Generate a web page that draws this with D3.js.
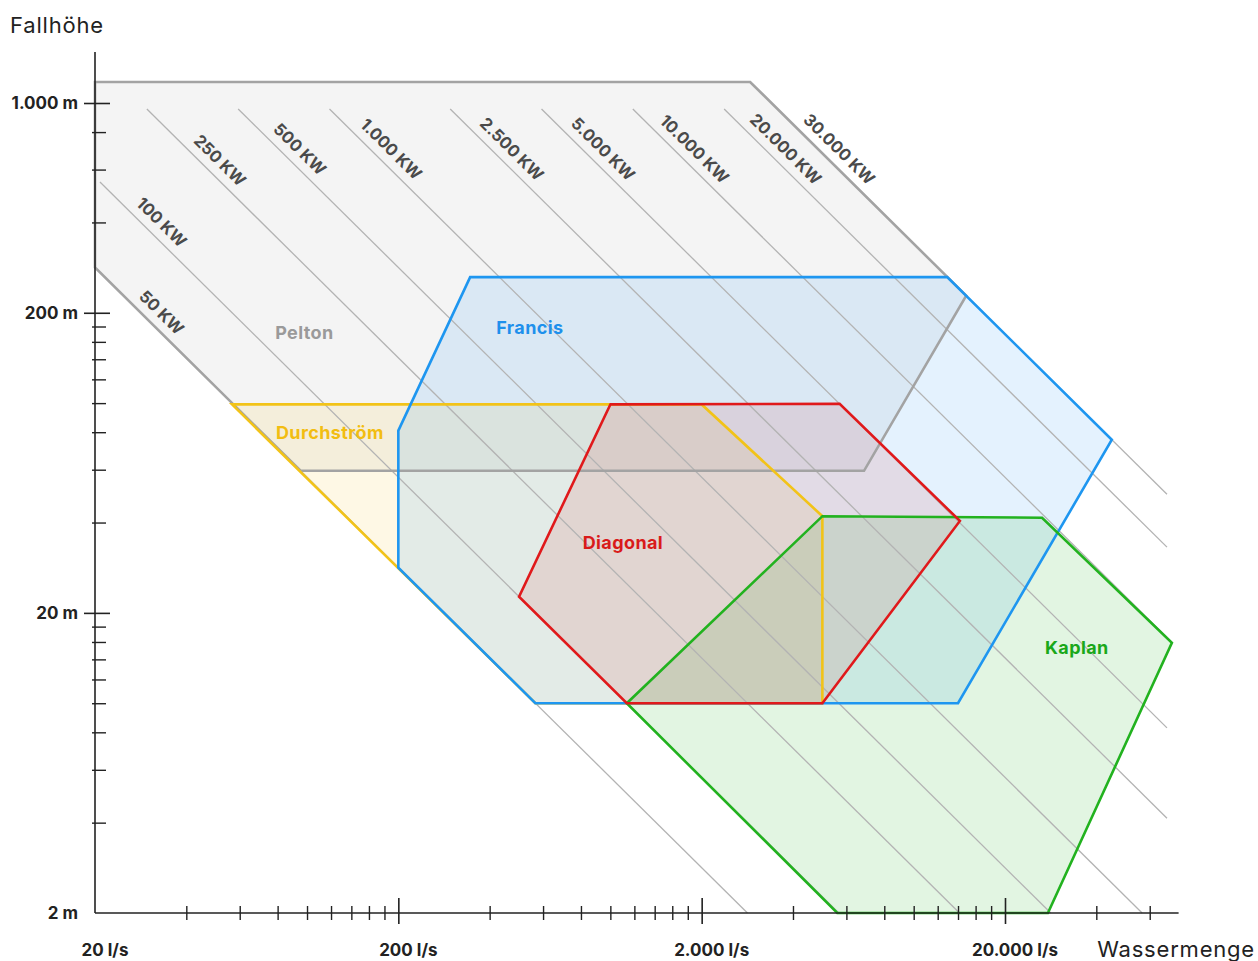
<!DOCTYPE html>
<html>
<head>
<meta charset="utf-8">
<script src="https://cdn.jsdelivr.net/npm/d3@7"></script>
<style>
  body { margin: 0; background: #fff; }
  svg { display: block; }
  text { font-family: Inter, "Noto Sans", sans-serif; }
</style>
</head>
<body>
<svg width="1258" height="961"></svg>
<script>
// Achsen: Wassermenge in l/s, Fallhöhe in m (beide logarithmisch)
var flowTicks = [20, 200, 2000, 20000];
var flowLabels = ["20 l/s", "200 l/s", "2.000 l/s", "20.000 l/s"];
var flowMinor = [40, 60, 80, 100, 120, 140, 160, 180,
                 400, 600, 800, 1000, 1200, 1400, 1600, 1800,
                 4000, 6000, 8000, 10000, 12000, 14000, 16000, 18000,
                 40000, 60000];
var headTicks = [1000, 200, 20, 2];
var headLabels = ["1.000 m", "200 m", "20 m", "2 m"];
var headMinor = [800, 600, 400,
                 180, 160, 140, 120, 100, 80, 60, 40,
                 18, 16, 14, 12, 10, 8, 6, 4];

// Leistungslinien (kW)
var powerKW = [50, 100, 250, 500, 1000, 2500, 5000, 10000, 20000, 30000];
var powerLabels = ["50 KW", "100 KW", "250 KW", "500 KW", "1.000 KW", "2.500 KW",
                   "5.000 KW", "10.000 KW", "20.000 KW", "30.000 KW"];

// Einsatzbereiche der Turbinen, Punkte als [l/s, m]
var turbineNames = ["Pelton", "Durchström", "Francis", "Kaplan", "Diagonal"];
var pelton = [[20, 1175], [2890, 1175], [14900, 228], [6860, 59.5], [95.2, 59.5], [20, 283]];
var durchstroem = [[56.6, 99], [2000, 99], [5000, 42], [5000, 10], [566, 10]];
var francis = [[345, 263], [12900, 263], [45000, 75.5], [14000, 10], [566, 10], [200, 28.3], [200, 81]];
var kaplan = [[1133, 10], [5000, 42], [26500, 41.5], [71000, 15.9], [27700, 2], [5600, 2]];
var diagonal = [[1000, 99], [5700, 99.5], [14200, 40.5], [5000, 10], [1133, 10], [500, 22.65]];
var turbineLabelAt = [[98, 171], [119, 79.7], [543, 178], [34500, 15.3], [1100, 34.2]];

var svg = d3.select("svg");
var ink = "#222";

var x = d3.scaleLog().domain([20, 20000]).range([95, 1005]);
var y = d3.scaleLog().domain([2, 1000]).range([913, 103]);
var flowEnd = 74700, headTop = 1480;

// Stil je Turbine
var styles = [
    { stroke: "#a3a3a3", fill: "#f4f4f4", op: 1, text: "#9a9a9a" },
    { stroke: "#f2c318", fill: "rgb(245,185,0)", op: 0.1, text: "#f2bd12" },
    { stroke: "#1e96f0", fill: "#2196f3", op: 0.12, text: "#1e90ec" },
    { stroke: "#22b21f", fill: "#22b422", op: 0.13, text: "#1aa81a" },
    { stroke: "#e0191b", fill: "rgb(220,20,20)", op: 0.1, text: "#d91a1a" }
];
var polys = [pelton, durchstroem, francis, kaplan, diagonal];
var line = d3.line().x(d => x(d[0])).y(d => y(d[1])).curve(d3.curveLinearClosed);

// Flächen
svg.append("g").selectAll("path").data(polys).enter().append("path")
    .attr("d", line)
    .attr("fill", (d, i) => styles[i].fill)
    .attr("fill-opacity", (d, i) => styles[i].op)
    .attr("stroke", "none");

// Leistungslinien: P = 9.81 * 0.9 * Q * H
var k = 9.81 * 0.9;
var qMin = 20.77, qMax = 68400, hMax = 955, hMin = 2;
var pl = powerKW.map(function(p, i) {
    var c = p / k * 1000;
    var q1 = Math.max(qMin, c / hMax), q2 = Math.min(qMax, c / hMin);
    return { label: powerLabels[i], a: [q1, c / q1], b: [q2, c / q2] };
});
var pg = svg.append("g");
pg.selectAll("line").data(pl).enter().append("line")
    .attr("x1", d => x(d.a[0])).attr("y1", d => y(d.a[1]))
    .attr("x2", d => x(d.b[0])).attr("y2", d => y(d.b[1]))
    .attr("stroke", "#b3b3b3").attr("stroke-width", 1.3);

// Umrisse
svg.append("g").selectAll("path").data(polys).enter().append("path")
    .attr("d", line)
    .attr("fill", "none")
    .attr("stroke", (d, i) => styles[i].stroke)
    .attr("stroke-width", 2.6)
    .attr("stroke-linejoin", "miter");

// Beschriftung Leistungslinien
pg.selectAll("text").data(pl).enter().append("text")
    .attr("transform", function(d) {
        var x1 = x(d.a[0]), y1 = y(d.a[1]), x2 = x(d.b[0]), y2 = y(d.b[1]);
        var len = Math.hypot(x2 - x1, y2 - y1);
        var ux = (x2 - x1) / len, uy = (y2 - y1) / len;
        var ang = Math.atan2(uy, ux) * 180 / Math.PI;
        var along = d.label == "250 KW" ? 88 : 72;
        return "translate(" + (x1 + ux * along) + "," + (y1 + uy * along) + ") rotate(" + ang + ")";
    })
    .attr("text-anchor", "middle")
    .attr("dy", -9)
    .attr("font-size", 16.5).attr("font-weight", 700)
    .attr("fill", "#4a4a4a")
    .text(d => d.label);

// Namen der Turbinen
svg.append("g").selectAll("text").data(turbineNames).enter().append("text")
    .attr("x", (d, i) => x(turbineLabelAt[i][0]))
    .attr("y", (d, i) => y(turbineLabelAt[i][1]))
    .attr("dy", "0.35em")
    .attr("text-anchor", "middle")
    .attr("font-size", 18).attr("font-weight", 700).attr("letter-spacing", 0.4)
    .attr("fill", (d, i) => styles[i].text)
    .text(d => d);

// Achsen
var axes = svg.append("g");
axes.append("line").attr("x1", x(20)).attr("x2", x(flowEnd))
    .attr("y1", y(2)).attr("y2", y(2)).attr("stroke", ink).attr("stroke-width", 1.6);
axes.append("line").attr("x1", x(20)).attr("x2", x(20))
    .attr("y1", y(headTop)).attr("y2", y(2)).attr("stroke", ink).attr("stroke-width", 1.6);

var gxMinor = axes.append("g").attr("transform", "translate(0," + y(2) + ")")
    .call(d3.axisBottom(x).tickValues(flowMinor).tickSize(7).tickFormat(""));
gxMinor.select(".domain").remove();
gxMinor.selectAll(".tick line").attr("y1", -7).attr("stroke", ink).attr("stroke-width", 1.4);

var gxMajor = axes.append("g").attr("transform", "translate(0," + y(2) + ")")
    .call(d3.axisBottom(x).tickValues(flowTicks.slice(1)).tickSize(11).tickFormat(""));
gxMajor.select(".domain").remove();
gxMajor.selectAll(".tick line").attr("y1", -15).attr("stroke", ink).attr("stroke-width", 1.6);

var gyMinor = axes.append("g").attr("transform", "translate(" + x(20) + ",0)")
    .call(d3.axisRight(y).tickValues(headMinor).tickSize(11).tickFormat(""));
gyMinor.select(".domain").remove();
gyMinor.selectAll(".tick line").attr("x1", -3).attr("stroke", ink).attr("stroke-width", 1.4);

var gyMajor = axes.append("g").attr("transform", "translate(" + x(20) + ",0)")
    .call(d3.axisRight(y).tickValues(headTicks.slice(0, 3)).tickSize(15).tickFormat(""));
gyMajor.select(".domain").remove();
gyMajor.selectAll(".tick line").attr("x1", -11).attr("stroke", ink).attr("stroke-width", 1.6);

axes.selectAll(".xlab").data(flowTicks).enter().append("text")
    .attr("x", d => x(d) + 10).attr("y", 956)
    .attr("text-anchor", "middle")
    .attr("font-size", 17).attr("font-weight", 700)
    .attr("fill", ink)
    .text((d, i) => flowLabels[i]);

axes.selectAll(".ylab").data(headTicks).enter().append("text")
    .attr("x", 78).attr("y", d => y(d)).attr("dy", "0.35em")
    .attr("text-anchor", "end")
    .attr("font-size", 17).attr("font-weight", 700)
    .attr("fill", ink)
    .text((d, i) => headLabels[i]);

svg.append("text").attr("x", 10).attr("y", 33)
    .attr("font-size", 22).attr("letter-spacing", 0.8).attr("fill", ink)
    .text("Fallhöhe");
svg.append("text").attr("x", 1255).attr("y", 957).attr("text-anchor", "end")
    .attr("font-size", 22).attr("letter-spacing", 0.8).attr("fill", ink)
    .text("Wassermenge");
</script>
</body>
</html>
